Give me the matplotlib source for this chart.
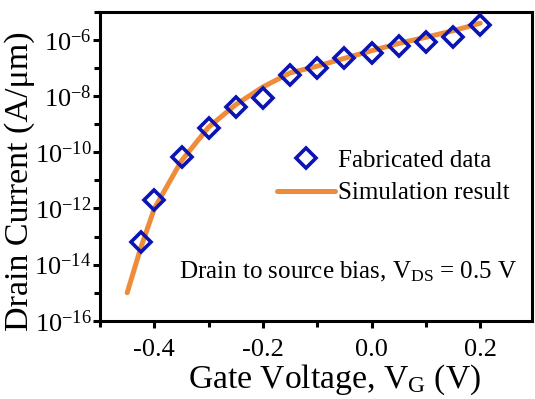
import numpy as np
import matplotlib
matplotlib.use("Agg")
import matplotlib.pyplot as plt
from matplotlib.ticker import (LogLocator, LogFormatterMathtext, MultipleLocator,
                               NullFormatter, FormatStrFormatter)

plt.rcParams['font.family'] = ['Liberation Serif', 'DejaVu Serif']
plt.rcParams['mathtext.fontset'] = 'custom'
plt.rcParams['mathtext.rm'] = 'Liberation Serif'
plt.rcParams['mathtext.it'] = 'Liberation Serif:italic'
plt.rcParams['mathtext.bf'] = 'Liberation Serif:bold'
plt.rcParams['axes.unicode_minus'] = False

# Measured drain current (log10 of A/um) vs gate voltage (V)
vg_meas = [-0.425, -0.40, -0.35, -0.30, -0.25, -0.20, -0.15, -0.10,
           -0.05, 0.00, 0.05, 0.10, 0.15, 0.20]
id_meas_log = [-13.2, -11.71, -10.17, -9.15, -8.38, -8.05, -7.25, -6.98,
               -6.65, -6.45, -6.21, -6.08, -5.88, -5.46]

# Simulated drain current (log10 of A/um)
vg_sim = [-0.45, -0.425, -0.40, -0.35, -0.30, -0.25, -0.20, -0.15, -0.10,
          -0.05, 0.00, 0.05, 0.10, 0.15, 0.20]
id_sim_log = [-15.0, -13.4, -12.0, -10.3, -9.1, -8.3, -7.67, -7.17, -6.93,
              -6.65, -6.38, -6.12, -5.90, -5.67, -5.40]

id_meas = [10.0 ** v for v in id_meas_log]
id_sim = [10.0 ** v for v in id_sim_log]

fig = plt.figure(figsize=(5.35, 3.99), dpi=100)
ax = fig.add_axes([0.187, 0.196, 0.807, 0.774])

ax.plot(vg_sim, id_sim, color='#EE8C3A', lw=3.6, solid_capstyle='round',
        label='Simulation result', zorder=2)
ax.plot(vg_meas, id_meas, ls='none', marker='D', ms=10.5, mfc='none',
        mec='#0A14B4', mew=2.6, label='Fabricated data', zorder=3)

ax.set_yscale('log')
ax.set_ylim(1e-16, 1e-5)
ax.set_xlim(-0.5, 0.295)

ax.yaxis.set_major_locator(LogLocator(base=100.0, numticks=20))
ax.yaxis.set_minor_locator(LogLocator(base=10.0, subs=(1.0,), numticks=20))
ax.yaxis.set_major_formatter(LogFormatterMathtext(base=10.0))
ax.yaxis.set_minor_formatter(NullFormatter())
ax.xaxis.set_major_locator(MultipleLocator(0.2))
ax.xaxis.set_minor_locator(MultipleLocator(0.1))
ax.xaxis.set_major_formatter(FormatStrFormatter('%.1f'))

for s in ax.spines.values():
    s.set_linewidth(2.2)
ax.tick_params(which='both', direction='out', width=2.2, labelsize=19)
ax.tick_params(which='major', length=5)
ax.tick_params(which='minor', length=4)
ax.tick_params(axis='y', pad=1)
ax.tick_params(axis='x', pad=8)

ax.set_xlabel(r'Gate Voltage, V$_\mathregular{G}$ (V)', fontsize=24.2)
ax.xaxis.set_label_coords(0.543, -0.135)
ax.set_ylabel('Drain Current (A/\u03bcm)', fontsize=24.5)
ax.yaxis.set_label_coords(-0.15, 0.451)

handles, labels = ax.get_legend_handles_labels()
ax.legend(handles[::-1], labels[::-1], loc='upper left',
          bbox_to_anchor=(0.41, 0.555), frameon=False, fontsize=18,
          handlelength=2.3, handletextpad=0.15, labelspacing=0.4,
          borderaxespad=0, borderpad=0)

ax.text(0.966, 0.138, r'Drain to source bias, V$_\mathregular{DS}$ = 0.5 V',
        transform=ax.transAxes, ha='right', va='baseline', fontsize=18)

fig.savefig('out.png', dpi=100)
